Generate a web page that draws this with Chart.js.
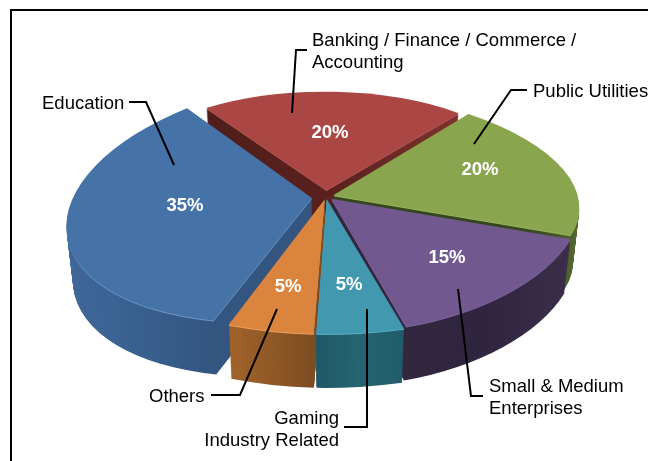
<!DOCTYPE html>
<html>
<head>
<meta charset="utf-8">
<style>
  html, body { margin: 0; padding: 0; background: #fff; overflow: hidden; }
  canvas { display: block; }
</style>
<script src="https://cdn.jsdelivr.net/npm/chart.js@4"></script>
</head>
<body>
<canvas id="myChart" width="648" height="461"></canvas>
<script>
// data, clockwise from the back slice
let categories = ['Banking / Finance / Commerce / Accounting', 'Public Utilities', 'Small & Medium Enterprises', 'Gaming Industry Related', 'Others', 'Education'];
let values = [20, 20, 15, 5, 5, 35];

// colours
let topColors = ['#aa4643', '#89a54e', '#71588f', '#4198af', '#db843d', '#4572a7'];
let rimColors = ['#b85a57', '#97b35c', '#7f669d', '#5aaec4', '#eda05e', '#6f97c6'];
let sideColors = [
  ['#4f1e1a', '#5a211d', '#7d3230'],
  ['#37451f', '#3a4a22', '#566a32'],
  ['#33263f', '#2f2540', '#3b2e4a'],
  ['#1f5866', '#256472', '#215c6a'],
  ['#a0632a', '#8f5826', '#7d4c22'],
  ['#3f6899', '#38608f', '#33557f']
];

// explode distance of each slice
let explode = [50, 26, 25, 18, 22, 48];

// perspective of each slice: a, b, c, d of the canvas transform, pixels per radius
let tilt = [
  [214.5, 1, 0, 98],
  [244.9, 4, 20.1, 105.9],
  [251.4, -6.1, 4.9, 133.9],
  [283, 0, -1.1, 133],
  [276.7, 3.6, -0.3, 132.2],
  [242.3, -20.6, -15, 121.3]
];
let drawOrder = [0, 1, 5, 2, 4, 3];
let pieX = 326, pieY = 196, depth = 54;

// text
let calloutLines = [
  ['Banking / Finance / Commerce /', 'Accounting'],
  ['Public Utilities'],
  ['Small & Medium', 'Enterprises'],
  ['Gaming', 'Industry Related'],
  ['Others'],
  ['Education']
];
let calloutText = [
  { x: 312, y: 46, align: 'left' },
  { x: 533, y: 97, align: 'left' },
  { x: 489, y: 392, align: 'left' },
  { x: 339, y: 424, align: 'right' },
  { x: 149, y: 402, align: 'left' },
  { x: 42, y: 109, align: 'left' }
];
let calloutLeaders = [
  [[307, 50], [296, 50], [292, 113]],
  [[527, 90], [511, 90], [474, 144]],
  [[483, 396], [471, 396], [458, 289]],
  [[344, 427], [367, 427], [367, 309]],
  [[211, 395], [240, 395], [277, 309]],
  [[129, 102], [146, 102], [174, 165]]
];
let percentPos = [[330, 133], [480, 170], [447, 258], [349, 285], [288, 287], [185, 206]];

function sideGradient(ctx, arc, colors) {
  let r = arc.outerRadius;
  let xs = [Math.cos(arc.startAngle), Math.cos(arc.endAngle)];
  for (let k = -2; k <= 2; k++) {
    let a = k * Math.PI;
    if (a > arc.startAngle && a < arc.endAngle) xs.push(Math.cos(a));
  }
  let g = ctx.createLinearGradient(arc.x + r * Math.min(...xs), 0, arc.x + r * Math.max(...xs), 0);
  g.addColorStop(0, colors[0]);
  g.addColorStop(0.5, colors[1]);
  g.addColorStop(1, colors[2]);
  return g;
}

function drawFace(ctx, arc, i, drop, color) {
  let m = tilt[i];
  let shrink = 1 - 0.025 * drop / depth;
  let r = arc.outerRadius;
  let face = Object.create(arc);
  face.options = {
    backgroundColor: color, borderColor: color, borderWidth: 0, borderRadius: 0,
    borderAlign: 'center', offset: arc.options.offset, spacing: 0, circular: true
  };
  ctx.save();
  ctx.translate(pieX, pieY + drop);
  ctx.scale(shrink, 1);
  ctx.transform(m[0] / r, m[1] / r, m[2] / r, m[3] / r, 0, 0);
  ctx.translate(-arc.x, -arc.y);
  face.draw(ctx);
  ctx.restore();
}

let pie3d = {
  id: 'pie3d',
  beforeDatasetDraw(chart, args) {
    let ctx = chart.ctx;
    let arcs = args.meta.data;
    drawOrder.forEach(function (i) {
      let side = sideGradient(ctx, arcs[i], sideColors[i]);
      for (let d = depth; d >= 2; d--) drawFace(ctx, arcs[i], i, d, side);
      drawFace(ctx, arcs[i], i, 1, rimColors[i]);
      drawFace(ctx, arcs[i], i, 0, topColors[i]);
    });
    return false;
  },
  afterDraw(chart) {
    let ctx = chart.ctx;
    ctx.save();

    // frame
    ctx.strokeStyle = '#000';
    ctx.lineWidth = 2;
    ctx.beginPath();
    ctx.moveTo(11, 461);
    ctx.lineTo(11, 10);
    ctx.lineTo(648, 10);
    ctx.stroke();

    // leaders
    ctx.lineJoin = 'miter';
    calloutLeaders.forEach(function (pts) {
      ctx.beginPath();
      pts.forEach(function (p, k) {
        if (k === 0) ctx.moveTo(p[0], p[1]);
        else ctx.lineTo(p[0], p[1]);
      });
      ctx.stroke();
    });

    // callouts
    ctx.fillStyle = '#000';
    ctx.font = '18.5px "Liberation Sans"';
    ctx.textBaseline = 'alphabetic';
    calloutLines.forEach(function (lines, i) {
      ctx.textAlign = calloutText[i].align;
      lines.forEach(function (line, k) {
        ctx.fillText(line, calloutText[i].x, calloutText[i].y + k * 21.5);
      });
    });

    // percentages
    ctx.fillStyle = '#fff';
    ctx.font = 'bold 18.5px "Liberation Sans"';
    ctx.textAlign = 'center';
    ctx.textBaseline = 'middle';
    values.forEach(function (v, i) {
      ctx.fillText(v + '%', percentPos[i][0], percentPos[i][1]);
    });
    ctx.restore();
  }
};

let myChart = new Chart(document.getElementById('myChart'), {
  type: 'pie',
  data: {
    labels: categories,
    datasets: [{
      data: values,
      backgroundColor: topColors,
      borderWidth: 0,
      offset: explode
    }]
  },
  options: {
    responsive: false,
    animation: false,
    rotation: -34,
    layout: { padding: 0 },
    plugins: { legend: { display: false }, tooltip: { enabled: false } }
  },
  plugins: [pie3d]
});
</script>
</body>
</html>
